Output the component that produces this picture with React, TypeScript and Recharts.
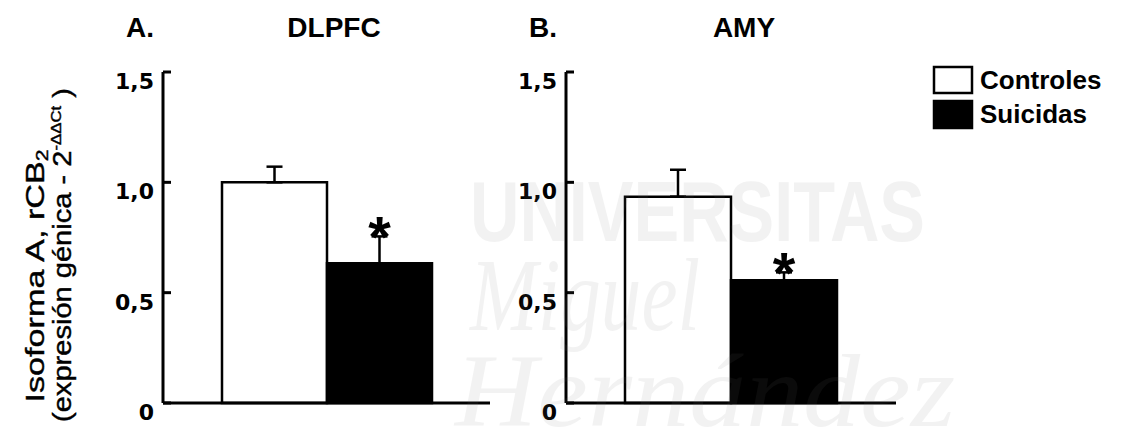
import React from "react";
import { BarChart, Bar, XAxis, YAxis, ErrorBar, LabelList } from "recharts";

// values (expresión génica, 2^-ΔΔCt)
const PANELS = ["A.", "B."];
const REGIONS = ["DLPFC", "AMY"];
const GROUPS = ["Controles", "Suicidas"];
const CONTROLES = [1.0, 0.935];
const SUICIDAS = [0.633, 0.556];
const CONTROLES_SEM = [0.071, 0.122];
const SUICIDAS_SEM = [0.122, 0.036];
const SIGNIFICANT = [true, true];
const Y_TICKS = [0, 0.5, 1, 1.5];
const Y_TICK_LABELS = ["0", "0,5", "1,0", "1,5"];

const FONT = "'Liberation Sans', Arial, sans-serif";
const TICK_FONT = "'DejaVu Sans', sans-serif";

const rowFor = (i: number) => [
  {
    region: REGIONS[i],
    controles: CONTROLES[i],
    suicidas: SUICIDAS[i],
    controlesErr: [0, CONTROLES_SEM[i]],
    suicidasErr: [0, SUICIDAS_SEM[i]],
  },
];

function YTick(props: any) {
  const { x, y, payload } = props;
  const label = Y_TICK_LABELS[Y_TICKS.indexOf(payload.value)];
  return (
    <g>
      <line x1={x} x2={x + 8} y1={y} y2={y} stroke="#000" strokeWidth={3} />
      <text
        x={x - 9}
        y={y + 17}
        textAnchor="end"
        fontFamily={TICK_FONT}
        fontWeight="bold"
        fontSize={22}
        fill="#000"
      >
        {label}
      </text>
    </g>
  );
}

function makeStar(i: number) {
  return (props: any) => {
    if (!SIGNIFICANT[i]) return null;
    const vb = props.viewBox || props;
    const { x, y, width, height } = vb;
    const value = SUICIDAS[i];
    const errTop = y - (SUICIDAS_SEM[i] * height) / value;
    const fs = 58;
    return (
      <text
        x={x + width / 2}
        y={errTop - 4 + 0.42 * fs}
        textAnchor="middle"
        fontFamily={FONT}
        fontWeight="bold"
        fontSize={fs}
        fill="#000"
      >
        *
      </text>
    );
  };
}

function Panel({ i, width, yAxisWidth, right }: any) {
  return (
    <BarChart
      width={width}
      height={434}
      data={rowFor(i)}
      margin={{ top: 72, right, bottom: 0, left: 0 }}
      barCategoryGap={59}
      barGap={0}
    >
      <XAxis
        dataKey="region"
        tick={false}
        tickLine={false}
        height={31}
        axisLine={{ stroke: "#000", strokeWidth: 3 }}
      />
      <YAxis
        width={yAxisWidth}
        domain={[0, 1.5]}
        ticks={Y_TICKS}
        tickSize={0}
        tickMargin={0}
        tickLine={false}
        axisLine={{ stroke: "#000", strokeWidth: 3 }}
        tick={<YTick />}
        interval={0}
      />
      <Bar dataKey="controles" fill="#fff" stroke="#000" strokeWidth={2.5} isAnimationActive={false}>
        <ErrorBar dataKey="controlesErr" width={8} stroke="#000" strokeWidth={2.5} isAnimationActive={false} />
      </Bar>
      <Bar dataKey="suicidas" fill="#000" stroke="#000" strokeWidth={2.5} isAnimationActive={false}>
        <ErrorBar dataKey="suicidasErr" width={8} stroke="#000" strokeWidth={2.5} isAnimationActive={false} />
        <LabelList dataKey="suicidas" content={makeStar(i)} />
      </Bar>
    </BarChart>
  );
}

export default function App() {
  return (
    <div
      style={{
        position: "absolute",
        left: 0,
        top: 0,
        width: 1121,
        height: 434,
        background: "#fff",
        overflow: "hidden",
      }}
    >
      <div style={{ position: "absolute", left: 0, top: 0 }}>
        <Panel i={0} width={500} yAxisWidth={163} right={10} />
      </div>
      <div style={{ position: "absolute", left: 500, top: 0 }}>
        <Panel i={1} width={621} yAxisWidth={66} right={225} />
      </div>

      <svg
        width={1121}
        height={434}
        style={{ position: "absolute", left: 0, top: 0, pointerEvents: "none" }}
      >
        {/* panel letters and region titles */}
        <g fontFamily={FONT} fontWeight="bold" fontSize={28} fill="#000">
          <text x={126} y={37}>{PANELS[0]}</text>
          <text x={334} y={37} textAnchor="middle">{REGIONS[0]}</text>
          <text x={529} y={37}>{PANELS[1]}</text>
          <text x={744} y={37} textAnchor="middle">{REGIONS[1]}</text>
        </g>

        {/* y axis title */}
        <g fontFamily={FONT} fontSize={26} fill="#000" stroke="#000" strokeWidth={0.4}>
          <text
            transform="translate(44 276) rotate(-90)"
            textAnchor="middle"
            textLength={253}
            lengthAdjust="spacingAndGlyphs"
          >
            Isoforma A, rCB
            <tspan fontSize={16} dy={4}>2</tspan>
          </text>
          <text
            transform="translate(71 255) rotate(-90)"
            textAnchor="middle"
            textLength={334}
            lengthAdjust="spacingAndGlyphs"
          >
            (expresión génica - 2
            <tspan fontSize={15} dy={-10}>-ΔΔCt</tspan>
            <tspan dy={10}> )</tspan>
          </text>
        </g>

        {/* legend */}
        <g fontFamily={FONT} fontWeight="bold" fontSize={26} fill="#000">
          <rect x={934} y={67} width={38} height={26} fill="#fff" stroke="#000" strokeWidth={2.5} />
          <text x={980} y={89}>{GROUPS[0]}</text>
          <rect x={934} y={101} width={38} height={27} fill="#000" stroke="#000" strokeWidth={2.5} />
          <text x={980} y={123}>{GROUPS[1]}</text>
        </g>

        {/* faint watermark */}
        <g fill="#777" opacity={0.09}>
          <text x={470} y={241} fontFamily={FONT} fontWeight="bold" fontSize={86} textLength={455} lengthAdjust="spacingAndGlyphs">
            UNIVERSITAS
          </text>
          <text x={470} y={330} fontFamily="'Liberation Serif', serif" fontStyle="italic" fontSize={103} textLength={230} lengthAdjust="spacingAndGlyphs">
            Miguel
          </text>
          <text x={455} y={426} fontFamily="'Liberation Serif', serif" fontStyle="italic" fontSize={103} textLength={500} lengthAdjust="spacingAndGlyphs">
            Hernández
          </text>
        </g>
      </svg>
    </div>
  );
}
